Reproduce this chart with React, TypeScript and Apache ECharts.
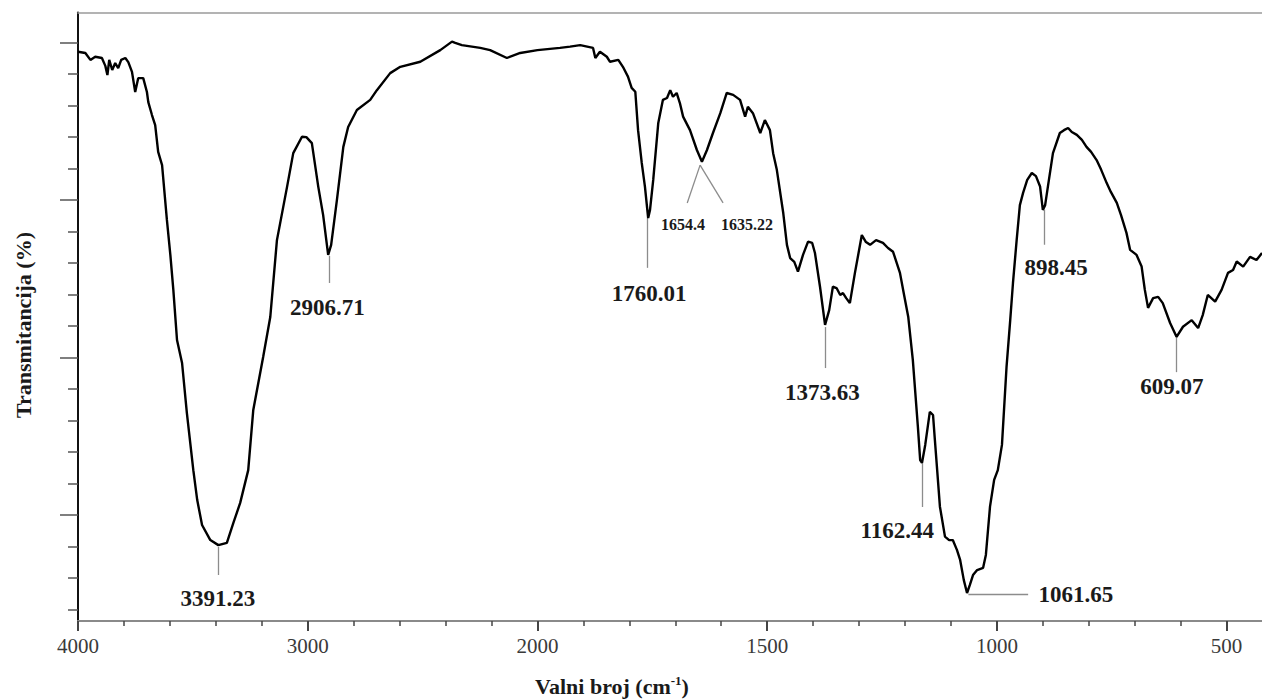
import React, { useEffect, useRef } from "react";
import * as echarts from "echarts";

// ---- Data (FTIR spectrum) ----
const wavenumbers = [
  4000, 3968, 3946, 3925, 3896, 3881, 3872, 3864, 3851, 3838,
  3825, 3812, 3794, 3781, 3765, 3751, 3738, 3716, 3700, 3694,
  3678, 3664, 3651, 3634, 3613, 3598, 3585, 3569, 3547, 3526,
  3498, 3481, 3460, 3424, 3389, 3352, 3324, 3294, 3259, 3237,
  3194, 3163, 3134, 3090, 3063, 3025, 3006, 2982, 2954, 2933,
  2911, 2898, 2873, 2845, 2824, 2786, 2728, 2699, 2641, 2597,
  2510, 2423, 2372, 2358, 2329, 2249, 2206, 2133, 2075, 2000,
  1951, 1929, 1907, 1879, 1874, 1864, 1849, 1842, 1824, 1814,
  1803, 1795, 1787, 1781, 1773, 1766, 1759, 1755, 1748, 1737,
  1727, 1718, 1711, 1705, 1697, 1690, 1683, 1668, 1653, 1642,
  1631, 1618, 1602, 1588, 1574, 1559, 1548, 1542, 1531, 1515,
  1505, 1494, 1487, 1479, 1465, 1457, 1450, 1441, 1433, 1422,
  1411, 1402, 1396, 1385, 1374, 1365, 1357, 1349, 1341, 1335,
  1328, 1320, 1309, 1294, 1285, 1276, 1263, 1248, 1237, 1226,
  1211, 1202, 1193, 1183, 1172, 1167, 1163, 1156, 1150, 1146,
  1139, 1135, 1130, 1124, 1113, 1104, 1096, 1087, 1080, 1072,
  1065, 1059, 1052, 1043, 1030, 1024, 1015, 1006, 998, 989,
  979, 971, 965, 957, 950, 943, 934, 924, 915, 906,
  900, 895, 889, 878, 863, 854, 845, 837, 826, 815,
  805, 795, 783, 773, 761, 752, 739, 730, 718, 710,
  696, 685, 678, 671, 660, 649, 639, 623, 609, 595,
  576, 562, 552, 541, 525, 511, 497, 486, 478, 464,
  449, 435, 423,
];

const transmittance = [
  24.71, 24.67, 24.45, 24.55, 24.51, 24.26, 23.97, 24.45, 24.13, 24.35,
  24.19, 24.45, 24.51, 24.38, 24.07, 23.43, 23.87, 23.87, 23.43, 23.11,
  22.7, 22.38, 21.53, 21.11, 19.37, 18.26, 17.15, 15.56, 14.83, 13.24,
  11.43, 10.48, 9.69, 9.21, 9.05, 9.12, 9.75, 10.39, 11.43, 13.34,
  15.02, 16.29, 18.73, 20.42, 21.49, 22.01, 22.0, 21.81, 20.42, 19.53,
  18.26, 18.58, 20.0, 21.69, 22.32, 22.86, 23.18, 23.49, 24.03, 24.23,
  24.39, 24.76, 25.03, 24.99, 24.92, 24.83, 24.76, 24.51, 24.67, 24.76,
  24.83, 24.87, 24.92, 24.83, 24.51, 24.71, 24.55, 24.39, 24.45, 24.23,
  23.92, 23.56, 23.44, 22.22, 21.18, 20.42, 19.43, 19.69, 20.64, 22.45,
  23.18, 23.24, 23.49, 23.28, 23.4, 23.08, 22.65, 22.22, 21.59, 21.22,
  21.59, 22.13, 22.76, 23.4, 23.34, 23.18, 22.65, 22.96, 22.76, 22.13,
  22.54, 22.22, 21.49, 20.96, 19.59, 18.58, 18.16, 18.04, 17.73, 18.26,
  18.68, 18.64, 18.32, 17.25, 16.04, 16.51, 17.25, 17.21, 16.99, 17.05,
  16.89, 16.73, 17.69, 18.89, 18.67, 18.58, 18.73, 18.64, 18.48, 18.36,
  17.69, 16.99, 16.3, 14.93, 12.81, 11.75, 11.66, 12.23, 12.86, 13.28,
  13.18, 12.39, 11.43, 10.27, 9.32, 9.21, 9.21, 8.9, 8.58, 7.94,
  7.53, 7.78, 8.1, 8.26, 8.33, 8.74, 10.27, 11.12, 11.43, 12.23,
  14.71, 16.19, 17.37, 18.73, 19.84, 20.23, 20.64, 20.86, 20.76, 20.43,
  19.69, 19.84, 20.43, 21.49, 22.13, 22.22, 22.29, 22.16, 22.07, 21.91,
  21.69, 21.53, 21.27, 20.96, 20.54, 20.26, 19.91, 19.53, 18.96, 18.42,
  18.26, 17.89, 17.15, 16.58, 16.89, 16.93, 16.73, 16.1, 15.66, 15.98,
  16.19, 15.94, 16.35, 16.99, 16.78, 17.15, 17.69, 17.78, 18.05, 17.89,
  18.2, 18.1, 18.32,
];

// Axis ticks (wavenumbers), y ticks (arbitrary transmittance units)
const xMajorTicks = [4000, 3000, 2000, 1500, 1000, 500];
const xMinorTicks = [
  3800, 3600, 3400, 3200, 2800, 2600, 2400, 2200,
  1900, 1800, 1700, 1600, 1400, 1300, 1200, 1100,
  900, 800, 700, 600,
];
const yMajorTicks = [10, 15, 20, 25];
const yMinorTicks = [7, 8, 9, 11, 12, 13, 14, 16, 17, 18, 19, 21, 22, 23, 24];
const xRange = [4000, 423];
const yRange = [6.642, 25.954];

// Peak annotations
const peakNames = [
  "3391.23", "2906.71", "1760.01", "1654.4", "1635.22",
  "1373.63", "1162.44", "1061.65", "898.45", "609.07",
];
const peakSmall = [false, false, false, true, true, false, false, false, false, false];
const labelWn = [3391, 2915, 1757, 1683, 1544, 1380, 1217, 828, 871, 619];
const labelT = [7.37, 16.58, 17.05, 19.21, 19.21, 13.88, 9.53, 7.47, 17.85, 14.07];
const leaderFromWn = [3391, 2907, 1760, 1646, 1646, 1374, 1162, 1062, 898, 609];
const leaderFromT = [8.99, 18.23, 19.43, 21.11, 21.11, 15.97, 11.66, 7.5, 19.69, 15.66];
const leaderToWn = [3391, 2907, 1760, 1674, 1596, 1374, 1162, 932, 898, 609];
const leaderToT = [8.1, 17.37, 17.85, 19.91, 19.91, 14.67, 10.26, 7.5, 18.58, 14.54];

// Split-scale wavenumber axis: 4000-2000 compressed 2x relative to 2000-400
const toP = (wn: number) => (wn >= 2000 ? (4000 - wn) / 2 : 3000 - wn);
const fromP = (p: number) => (p <= 1000 ? 4000 - 2 * p : 3000 - p);

const SERIF = "'Liberation Serif', 'Times New Roman', serif";

export default function App() {
  const ref = useRef<HTMLDivElement>(null);

  useEffect(() => {
    if (!ref.current) return;
    const chart = echarts.init(ref.current, null, { renderer: "svg" });

    const n = Math.min(wavenumbers.length, transmittance.length);
    const lineData: number[][] = [];
    for (let i = 0; i < n; i++) lineData.push([toP(wavenumbers[i]), transmittance[i]]);

    const xMin = toP(xRange[0]);
    const xMax = toP(xRange[1]);
    const majorP = xMajorTicks.map(toP);
    const minorP = xMinorTicks.map(toP);

    const labelData = peakNames.map((name, i) => ({
      name,
      value: [toP(labelWn[i]), labelT[i]],
      label: peakSmall[i]
        ? { fontSize: 16, fontWeight: "bold" }
        : { fontSize: 23, fontWeight: "bold" },
    }));

    const leaderData = peakNames.map((_, i) => ({
      coords: [
        [toP(leaderFromWn[i]), leaderFromT[i]],
        [toP(leaderToWn[i]), leaderToT[i]],
      ],
    }));

    const option: any = {
      animation: false,
      backgroundColor: "#ffffff",
      grid: { left: 78, top: 12.5, right: 0, bottom: 78, containLabel: false },
      xAxis: [
        {
          type: "value",
          position: "bottom",
          min: xMin,
          max: xMax,
          interval: 500,
          axisLine: { show: true, lineStyle: { color: "#8a8a8a", width: 2 } },
          axisTick: {
            show: true,
            customValues: majorP,
            length: 10,
            lineStyle: { color: "#444", width: 2 },
          },
          axisLabel: {
            show: true,
            customValues: majorP,
            formatter: (v: number) => String(Math.round(fromP(v))),
            fontFamily: SERIF,
            fontSize: 21,
            color: "#3a3a3a",
            margin: 14,
          },
          splitLine: { show: false },
        },
        {
          type: "value",
          position: "bottom",
          min: xMin,
          max: xMax,
          interval: 100,
          axisLine: { show: false },
          axisTick: {
            show: true,
            customValues: minorP,
            length: 5,
            lineStyle: { color: "#444", width: 1.5 },
          },
          axisLabel: { show: false },
          splitLine: { show: false },
        },
        {
          type: "value",
          position: "top",
          min: xMin,
          max: xMax,
          axisLine: { show: true, lineStyle: { color: "#9a9a9a", width: 1.5 } },
          axisTick: { show: false },
          axisLabel: { show: false },
          splitLine: { show: false },
        },
      ],
      yAxis: [
        {
          type: "value",
          position: "left",
          min: yRange[0],
          max: yRange[1],
          axisLine: { show: true, lineStyle: { color: "#111", width: 2 } },
          axisTick: {
            show: true,
            customValues: yMajorTicks,
            length: 18,
            lineStyle: { color: "#555", width: 1.5 },
          },
          axisLabel: { show: false },
          splitLine: { show: false },
        },
        {
          type: "value",
          position: "left",
          min: yRange[0],
          max: yRange[1],
          axisLine: { show: false },
          axisTick: {
            show: true,
            customValues: yMinorTicks,
            length: 10,
            lineStyle: { color: "#555", width: 1.5 },
          },
          axisLabel: { show: false },
          splitLine: { show: false },
        },
      ],
      series: [
        {
          type: "line",
          xAxisIndex: 0,
          yAxisIndex: 0,
          data: lineData,
          showSymbol: false,
          symbol: "none",
          lineStyle: { color: "#000", width: 2.4 },
          silent: true,
        },
        {
          type: "lines",
          coordinateSystem: "cartesian2d",
          xAxisIndex: 0,
          yAxisIndex: 0,
          data: leaderData,
          lineStyle: { color: "#8c8c8c", width: 1.3, opacity: 1 },
          silent: true,
        },
        {
          type: "scatter",
          xAxisIndex: 0,
          yAxisIndex: 0,
          data: labelData,
          symbolSize: 0,
          itemStyle: { color: "#1a1a1a", opacity: 1 },
          silent: true,
          label: {
            show: true,
            position: "inside",
            formatter: (p: any) => p.name,
            fontFamily: SERIF,
            color: "#1a1a1a",
            opacity: 1,
            textBorderWidth: 0,
            textBorderColor: "transparent",
          },
        },
      ],
      graphic: [
        {
          type: "text",
          x: 23,
          y: 325,
          rotation: Math.PI / 2,
          style: {
            text: "Transmitancija (%)",
            fontFamily: SERIF,
            fontSize: 22,
            fontWeight: "bold",
            fill: "#1a1a1a",
            align: "center",
            verticalAlign: "middle",
          },
        },
        {
          type: "text",
          x: 612,
          y: 686,
          style: {
            text: "{a|Valni broj (cm}{s|-1}{a|)}",
            align: "center",
            verticalAlign: "middle",
            fill: "#1a1a1a",
            rich: {
              a: { fontFamily: SERIF, fontSize: 22, fontWeight: "bold", fill: "#1a1a1a", lineHeight: 24 },
              s: { fontFamily: SERIF, fontSize: 13, fontWeight: "bold", fill: "#1a1a1a", verticalAlign: "top", lineHeight: 14 },
            },
          },
        },
      ],
    };

    chart.setOption(option);
    return () => chart.dispose();
  }, []);

  return (
    <div
      ref={ref}
      style={{ position: "absolute", left: 0, top: 0, width: 1262, height: 699, background: "#fff" }}
    />
  );
}
